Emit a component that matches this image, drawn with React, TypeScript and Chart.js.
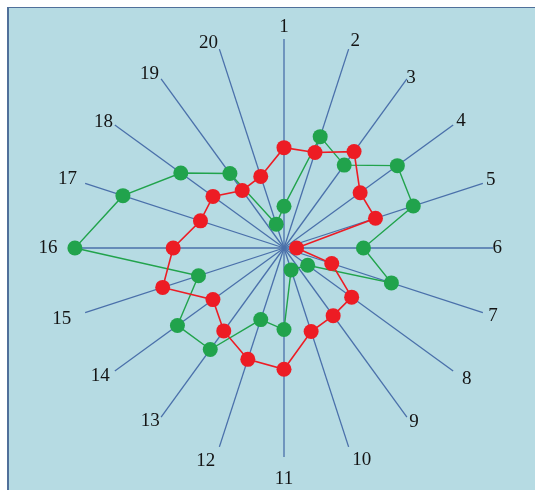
import React, { useEffect, useRef } from "react";
import { Chart, registerables } from "chart.js";

Chart.register(...registerables);

const categories: string[] = [
  "1", "2", "3", "4", "5", "6", "7", "8", "9", "10",
  "11", "12", "13", "14", "15", "16", "17", "18", "19", "20",
];

const redValues: number[] = [48, 48, 57, 45, 46, 6, 24, 40, 40, 42, 58, 56, 49, 42, 61, 53, 42, 42, 34, 36];

const greenValues: (number | null)[] = [20, 56, 49, 67, 65, 38, 54, 14, null, 11, 39, 36, 60, 63, 43, 100, 81, 61, 44, 12];

const scaleMin = 0;
const scaleMax = 100;

// per-label gap between the end of each spoke and its label (style only)
const labelGap: number[] = [10.1, 6.5, -1.1, 3.8, 3.2, -0.7, 5.7, 10.9, 4, 12.1, 20.1, 13, 2.1, 6.2, 14.5, 17.5, 8.5, 2.4, 3.4, 4.1];

const RED = "#ed1c24";
const GREEN = "#21a34c";
const AXIS = "#4a70aa";

export default function App() {
  const canvasRef = useRef<HTMLCanvasElement | null>(null);

  useEffect(() => {
    const canvas = canvasRef.current;
    if (!canvas) return;
    const chart = new Chart(canvas, {
      type: "radar",
      data: {
        labels: categories,
        datasets: [
          {
            label: "red",
            data: redValues,
            borderColor: RED,
            backgroundColor: RED,
            pointBackgroundColor: RED,
            pointBorderColor: RED,
            borderWidth: 1.6,
            pointRadius: 7.5,
            pointBorderWidth: 0,
            fill: false,
            tension: 0,
          },
          {
            label: "green",
            data: greenValues,
            borderColor: GREEN,
            backgroundColor: GREEN,
            pointBackgroundColor: GREEN,
            pointBorderColor: GREEN,
            borderWidth: 1.4,
            pointRadius: 7.5,
            pointBorderWidth: 0,
            fill: false,
            tension: 0,
            spanGaps: true,
          },
        ],
      },
      options: {
        responsive: false,
        animation: false,
        layout: { padding: { left: 25, right: 10, top: 21, bottom: 3 } },
        plugins: {
          legend: { display: false },
          tooltip: { enabled: false },
          title: { display: false },
        },
        scales: {
          r: {
            min: scaleMin,
            max: scaleMax,
            ticks: { display: false },
            grid: { display: false },
            angleLines: { display: true, color: AXIS, lineWidth: 1.3 },
            pointLabels: {
              display: true,
              padding: (ctx: any) => labelGap[ctx.index] ?? 4,
              color: "#141414",
              font: { family: "'Liberation Serif', 'DejaVu Serif', serif", size: 19, lineHeight: 0.2 },
            },
          },
        },
      },
    });
    return () => chart.destroy();
  }, []);

  return (
    <div style={{ position: "fixed", left: 0, top: 0, right: 0, bottom: 0, overflow: "hidden" }}>
      <div
        style={{
          position: "absolute",
          left: 7,
          top: 7,
          right: 0,
          bottom: 0,
          background: "#b6dbe3",
          borderLeft: "2px solid #50709a",
          borderTop: "1.5px solid #50709a",
        }}
      />
      <canvas
        ref={canvasRef}
        width={535}
        height={490}
        style={{ position: "absolute", left: 0, top: 0, width: 535, height: 490 }}
      />
    </div>
  );
}
